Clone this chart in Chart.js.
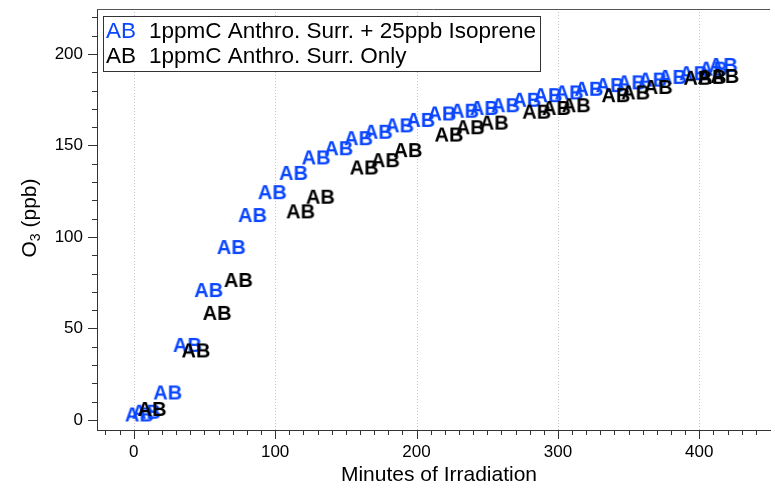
<!DOCTYPE html>
<html>
<head>
<meta charset="utf-8">
<script src="https://cdn.jsdelivr.net/npm/chart.js@4/dist/chart.umd.min.js"></script>
<style>html,body{margin:0;padding:0;background:#fff;}</style>
</head>
<body>
<canvas id="myChart" width="775" height="491"></canvas>
<script>
// 1ppmC surrogate + 25 ppb isoprene
const isoMinutes = [4, 9, 24, 38, 53, 69, 84, 98, 113, 129, 145, 159, 173, 188, 203, 218, 234, 248, 263, 278, 293, 308, 322, 337, 352, 367, 381, 396, 410, 417];
const isoO3 = [3, 4.5, 15, 41, 71, 94.5, 112, 124.5, 135, 143.5, 148.5, 154, 157.5, 161, 164, 167.5, 169, 170.5, 172, 175, 177.5, 179, 181, 183, 184.5, 186, 187.5, 189.5, 192, 194];

// 1ppmC surrogate only
const onlyMinutes = [13, 44, 59, 74, 118, 132, 163, 178, 194, 223, 238, 255, 285, 299, 313, 341, 355, 371, 399, 409, 418];
const onlyO3 = [6, 38, 58.5, 76.5, 114, 122, 138, 142, 147.5, 156, 160, 162.5, 168.5, 170.5, 172, 177.5, 179, 182, 187, 187.5, 188];

const seriesLabels = ['1ppmC Anthro. Surr. + 25ppb Isoprene', '1ppmC Anthro. Surr. Only'];
const seriesColors = ['#0a46ff', '#000000'];
const markerText = 'AB';
const xTicks = [0, 100, 200, 300, 400];
const yTicks = [0, 50, 100, 150, 200];

const FONT = '"Liberation Sans", Arial, Helvetica, sans-serif';

function makeMarker(color) {
  const c = document.createElement('canvas');
  c.width = 36;
  c.height = 26;
  const g = c.getContext('2d');
  g.font = 'bold 20px ' + FONT;
  g.fillStyle = color;
  g.textAlign = 'center';
  g.textBaseline = 'middle';
  g.fillText(markerText, 18, 14);
  return c;
}

function noPad(s) {
  s.paddingTop = 0; s.paddingBottom = 0; s.paddingLeft = 0; s.paddingRight = 0;
}

const decor = {
  id: 'decor',
  beforeDatasetsDraw(chart) {
    const {ctx, chartArea: a, scales: {x, y}} = chart;
    ctx.save();
    ctx.lineWidth = 1;
    // dotted vertical grid at major ticks
    ctx.strokeStyle = '#c4c4c4';
    ctx.setLineDash([1, 2]);
    xTicks.forEach(v => {
      const px = Math.round(x.getPixelForValue(v)) + 0.5;
      ctx.beginPath(); ctx.moveTo(px, a.top); ctx.lineTo(px, a.bottom); ctx.stroke();
    });
    ctx.setLineDash([]);
    // tick marks
    ctx.strokeStyle = '#333';
    for (let v = -20; v <= 440; v += 10) {
      const px = Math.round(x.getPixelForValue(v)) + 0.5;
      const len = v % 100 === 0 ? 9 : 5;
      ctx.beginPath(); ctx.moveTo(px, a.bottom); ctx.lineTo(px, a.bottom + len); ctx.stroke();
    }
    for (let v = 0; v <= 220; v += 10) {
      const py = Math.round(y.getPixelForValue(v)) + 0.5;
      const len = v % 50 === 0 ? 9 : 5;
      ctx.beginPath(); ctx.moveTo(a.left, py); ctx.lineTo(a.left - len, py); ctx.stroke();
    }
    // top frame line
    ctx.strokeStyle = '#555';
    ctx.beginPath(); ctx.moveTo(a.left, a.top + 0.5); ctx.lineTo(a.right, a.top + 0.5); ctx.stroke();
    ctx.restore();
  },
  afterDraw(chart) {
    const {ctx} = chart;
    ctx.save();
    // legend box
    ctx.fillStyle = '#fff';
    ctx.fillRect(103.5, 16.5, 437, 55);
    ctx.strokeStyle = '#333';
    ctx.lineWidth = 1;
    ctx.strokeRect(103.5, 16.5, 437, 55);
    ctx.font = '22.5px ' + FONT;
    ctx.textBaseline = 'middle';
    ctx.textAlign = 'left';
    const rows = [32, 57];
    seriesLabels.forEach((lab, i) => {
      ctx.fillStyle = seriesColors[i];
      ctx.fillText(markerText, 106, rows[i]);
      ctx.fillStyle = '#000';
      ctx.fillText(lab, 149, rows[i]);
    });
    // x title
    ctx.font = '21px ' + FONT;
    ctx.textAlign = 'center';
    ctx.fillText('Minutes of Irradiation', 439, 475);
    // y title with subscript
    ctx.translate(30, 218);
    ctx.rotate(-Math.PI / 2);
    ctx.textAlign = 'left';
    const big = '21px ' + FONT, small = '14px ' + FONT;
    ctx.font = big; const w1 = ctx.measureText('O').width;
    ctx.font = small; const w2 = ctx.measureText('3').width;
    ctx.font = big; const w3 = ctx.measureText(' (ppb)').width;
    let sx = -(w1 + w2 + w3) / 2;
    ctx.fillText('O', sx, 0);
    ctx.font = small; ctx.fillText('3', sx + w1, 6);
    ctx.font = big; ctx.fillText(' (ppb)', sx + w1 + w2, 0);
    ctx.restore();
  }
};

const ctx = document.getElementById('myChart').getContext('2d');

const myChart = new Chart(ctx, {
  type: 'scatter',
  data: {
    datasets: [
      {
        label: seriesLabels[0],
        data: isoMinutes.map((m, i) => ({x: m, y: isoO3[i]})),
        pointStyle: makeMarker(seriesColors[0]),
        order: 2
      },
      {
        label: seriesLabels[1],
        data: onlyMinutes.map((m, i) => ({x: m, y: onlyO3[i]})),
        pointStyle: makeMarker(seriesColors[1]),
        order: 1
      }
    ]
  },
  options: {
    responsive: false,
    animation: false,
    devicePixelRatio: 1,
    layout: {padding: {top: 9, right: 0, left: 0, bottom: 0}},
    scales: {
      x: {
        type: 'linear',
        min: -26,
        max: 450,
        afterFit: s => { s.height = 61; noPad(s); },
        grid: {display: false, drawTicks: false},
        border: {display: true, color: '#333', width: 1},
        ticks: {
          stepSize: 100,
          includeBounds: false,
          padding: 12,
          color: '#000',
          font: {size: 17, family: FONT}
        }
      },
      y: {
        min: -5.5,
        max: 224.6,
        afterFit: s => { s.width = 97; noPad(s); },
        grid: {display: false, drawTicks: false},
        border: {display: true, color: '#333', width: 1},
        ticks: {
          stepSize: 50,
          includeBounds: false,
          padding: 14,
          color: '#000',
          font: {size: 17, family: FONT}
        }
      }
    },
    plugins: {
      legend: {display: false},
      tooltip: {enabled: false}
    }
  },
  plugins: [decor]
});
</script>
</body>
</html>
